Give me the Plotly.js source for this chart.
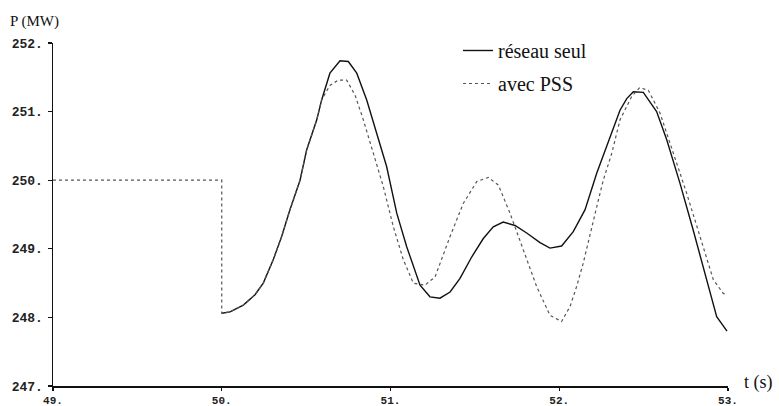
<!DOCTYPE html>
<html>
<head>
<meta charset="utf-8">
<script src="https://cdn.plot.ly/plotly-3.0.1.min.js"></script>
<style>
html,body{margin:0;padding:0;background:#fff;}
#chart{width:779px;height:406px;}
</style>
</head>
<body>
<div id="chart"></div>
<script>
// Time axis (s) and active power (MW)
const tSeul = [50.000, 50.049, 50.128, 50.197, 50.246, 50.305, 50.355, 50.404, 50.464, 50.503,
  50.563, 50.592, 50.641, 50.701, 50.750, 50.800, 50.859, 50.918, 50.977, 51.037,
  51.096, 51.175, 51.234, 51.293, 51.353, 51.412, 51.481, 51.550, 51.609, 51.668,
  51.738, 51.807, 51.886, 51.945, 52.014, 52.083, 52.153, 52.222, 52.301, 52.360,
  52.400, 52.439, 52.498, 52.577, 52.637, 52.716, 52.794, 52.874, 52.933, 52.994];
const pSeul = [248.06, 248.08, 248.18, 248.33, 248.50, 248.84, 249.18, 249.57, 250.00, 250.44,
  250.88, 251.17, 251.56, 251.74, 251.73, 251.56, 251.17, 250.68, 250.20, 249.52,
  249.03, 248.47, 248.30, 248.28, 248.37, 248.57, 248.88, 249.15, 249.32, 249.39,
  249.34, 249.23, 249.09, 249.01, 249.04, 249.25, 249.57, 250.10, 250.63, 251.02,
  251.19, 251.29, 251.28, 251.00, 250.59, 249.95, 249.27, 248.55, 248.01, 247.80];

const tPSS = [49.000, 50.000, 50.000, 50.049, 50.128, 50.197, 50.246, 50.305, 50.355, 50.404,
  50.464, 50.503, 50.563, 50.592, 50.640, 50.691, 50.740, 50.790, 50.839, 50.898,
  50.957, 51.017, 51.076, 51.135, 51.204, 51.264, 51.353, 51.431, 51.511, 51.580,
  51.639, 51.708, 51.787, 51.866, 51.945, 52.014, 52.064, 52.103, 52.142, 52.182,
  52.222, 52.261, 52.311, 52.360, 52.429, 52.477, 52.528, 52.597, 52.676, 52.755,
  52.834, 52.913, 52.972, 52.994];
const pPSS = [250.00, 250.00, 248.06, 248.08, 248.18, 248.33, 248.50, 248.84, 249.18, 249.57,
  250.00, 250.44, 250.88, 251.17, 251.38, 251.46, 251.46, 251.24, 250.88, 250.39,
  249.91, 249.32, 248.84, 248.50, 248.47, 248.59, 249.18, 249.66, 249.98, 250.04,
  249.93, 249.52, 248.98, 248.45, 248.03, 247.94, 248.16, 248.45, 248.79, 249.18,
  249.61, 250.00, 250.39, 250.88, 251.22, 251.35, 251.31, 250.98, 250.39, 249.81,
  249.18, 248.55, 248.35, 248.33];

const xTicks = [49, 50, 51, 52, 53];
const xTickText = ["49.", "50.", "51.", "52.", "53."];
const yTicks = [247, 248, 249, 250, 251, 252];
const yTickText = ["247.", "248.", "249.", "250.", "251.", "252."];
const seriesNames = ["réseau seul", "avec PSS"];

const traces = [
  {x: tSeul, y: pSeul, mode: 'lines', name: seriesNames[0], legendgroup: 'a',
   line: {color: '#111', width: 1.4}},
  {x: tPSS, y: pPSS, mode: 'lines', name: seriesNames[1], legendgroup: 'b',
   line: {color: '#555', width: 1.2, dash: 'dot'}}
];

const monoFam = 'Liberation Mono, DejaVu Sans Mono, monospace';
const serif = 'Liberation Serif, Times New Roman, serif';

const layout = {
  width: 779, height: 406,
  margin: {l: 53, r: 51, t: 43, b: 20},
  paper_bgcolor: '#fff', plot_bgcolor: '#fff',
  showlegend: true,
  legend: {x: 0.6, y: 1.035, xanchor: 'left', yanchor: 'top', traceorder: 'grouped',
    tracegroupgap: 4, font: {family: serif, size: 20, color: '#111'},
    bgcolor: 'rgba(0,0,0,0)', itemwidth: 30},
  xaxis: {range: [49, 53], tickvals: xTicks, ticktext: xTickText,
    tickfont: {family: monoFam, size: 11, color: '#222', weight: 'bold'},
    showgrid: false, zeroline: false, showline: true, linecolor: '#111', linewidth: 1.5,
    ticks: 'outside', ticklen: 3, tickcolor: '#111', tickwidth: 1.2, ticklabelstandoff: 0},
  yaxis: {range: [247, 252], tickvals: yTicks, ticktext: yTickText,
    tickfont: {family: monoFam, size: 13, color: '#222', weight: 'bold'},
    showgrid: false, zeroline: false, showline: true, linecolor: '#111', linewidth: 1.5,
    ticks: 'outside', ticklen: 4, tickcolor: '#111', tickwidth: 1.2, ticklabelstandoff: 2},
  annotations: [
    {text: 'P (MW)', xref: 'paper', yref: 'paper', x: -0.066, y: 1.062,
     xanchor: 'left', yanchor: 'middle', showarrow: false,
     font: {family: serif, size: 15, color: '#111'}},
    {text: 't (s)', xref: 'paper', yref: 'paper', x: 1.02, y: 0.01,
     xanchor: 'left', yanchor: 'middle', showarrow: false,
     font: {family: serif, size: 18, color: '#111'}}
  ]
};

Plotly.newPlot('chart', traces, layout, {displayModeBar: false, staticPlot: true});
</script>
</body>
</html>
